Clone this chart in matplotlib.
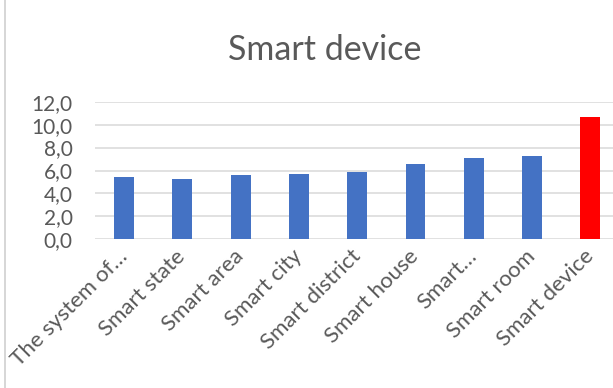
import matplotlib
matplotlib.use("Agg")
import matplotlib.pyplot as plt
from matplotlib.lines import Line2D

categories = ["The system of\u2026", "Smart state", "Smart area", "Smart city",
              "Smart district", "Smart house", "Smart\u2026", "Smart room", "Smart device"]
values = [5.4, 5.3, 5.6, 5.7, 5.9, 6.6, 7.1, 7.3, 10.7]
colors = ["#4472C4"] * 8 + ["#FF0000"]
yticks = [0, 2, 4, 6, 8, 10, 12]
ytick_labels = ["0,0", "2,0", "4,0", "6,0", "8,0", "10,0", "12,0"]

plt.rcParams["font.family"] = ["Lato", "DejaVu Sans"]
txt = "#595959"

fig = plt.figure(figsize=(6.13, 3.88), dpi=100)
ax = fig.add_axes([95 / 613, 1 - 239.3 / 388, 1 - 95 / 613, (239.3 - 101.7) / 388])

x = list(range(len(categories)))
ax.bar(x, values, width=0.34, color=colors, zorder=3)

ax.set_ylim(0, 12)
ax.set_xlim(-0.5, 8.39)
ax.set_yticks(yticks)
ax.set_yticklabels(ytick_labels, fontsize=15, color=txt)
ax.set_xticks(x)
ax.set_xticklabels(categories, fontsize=16, color=txt, rotation=45,
                   ha="right", va="center", rotation_mode="anchor")
ax.tick_params(axis="both", length=0)
ax.tick_params(axis="y", pad=16)
ax.tick_params(axis="x", pad=10)
ax.grid(axis="y", color="#D9D9D9", linewidth=1.1, zorder=0)
for s in ax.spines.values():
    s.set_visible(False)

fig.text(325 / 613, 1 - 60 / 388, "Smart device", fontsize=24.5, color=txt,
         ha="center", va="baseline")

# outer chart frame, left edge
fig.add_artist(Line2D([4.5 / 613, 4.5 / 613], [0, 1], color="#D0D0D0", linewidth=1.2))

fig.savefig("out.png", dpi=100)
